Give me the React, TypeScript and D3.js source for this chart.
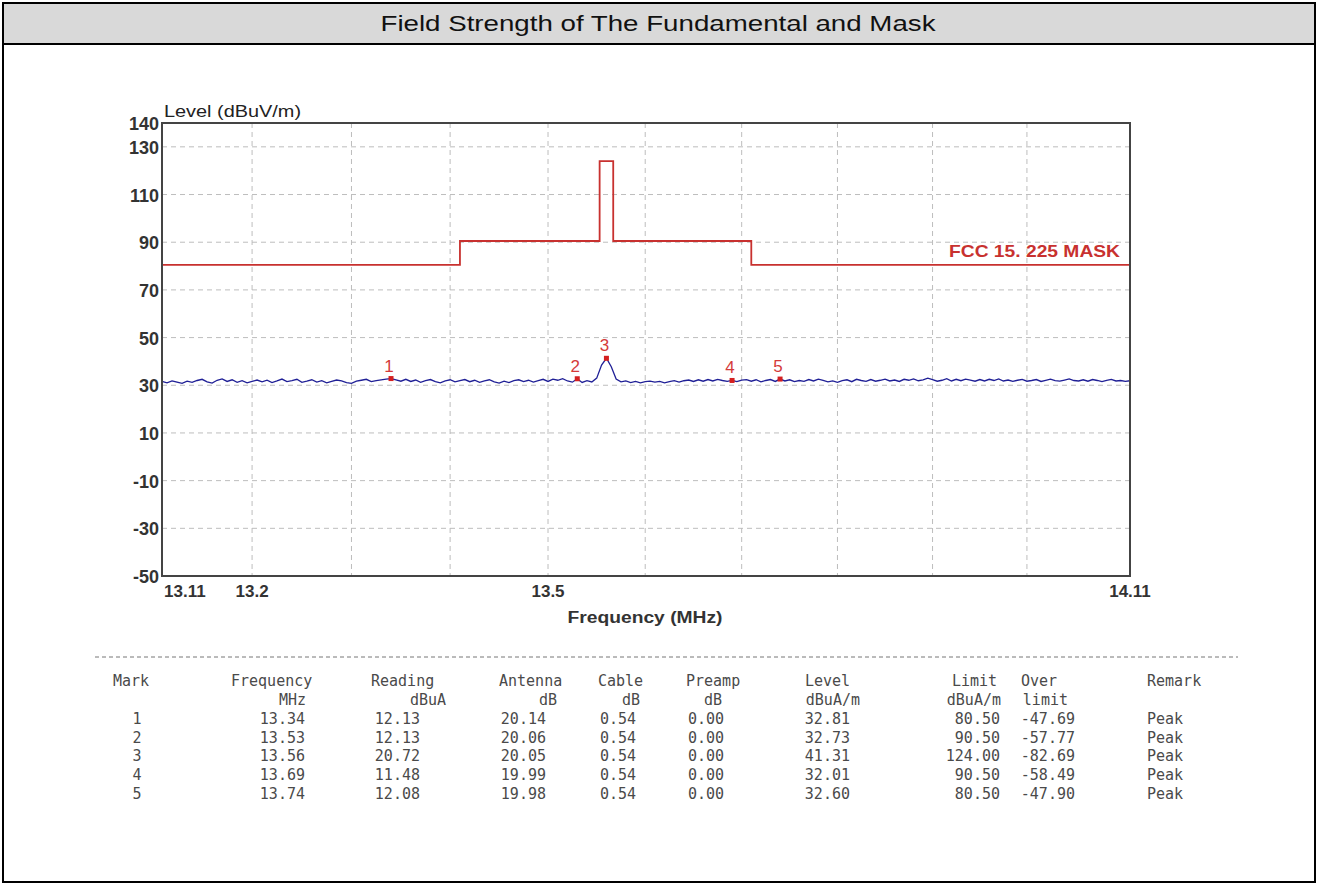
import React from 'react';
import * as d3 from 'd3';

// axis ticks
const yTickValues = [140, 130, 110, 90, 70, 50, 30, 10, -10, -30, -50];
const yGridValues = [130, 110, 90, 70, 50, 30, 10, -10, -30];
const xGridValues = [13.2, 13.3, 13.4, 13.5, 13.6, 13.7, 13.8, 13.9, 14.0];
const xTickValues = [13.11, 13.2, 13.5, 14.11];
const xTickLabels = ['13.11', '13.2', '13.5', '14.11'];

// FCC 15.225 mask
const maskFreqs = [13.11, 13.41, 13.41, 13.553, 13.553, 13.567, 13.567, 13.71, 13.71, 14.11];
const maskLevels = [80.5, 80.5, 90.5, 90.5, 124, 124, 90.5, 90.5, 80.5, 80.5];

// measured trace, sweep 13.11 .. 14.11 MHz, 0.005 MHz per point
const sweepStart = 13.11;
const sweepStep = 0.005;
const traceLevels = [
  31.6, 31.0, 31.8, 31.3, 30.8, 31.7, 31.2, 32.0, 32.5, 31.4,
  30.9, 32.1, 32.7, 31.6, 32.3, 31.2, 31.9, 31.0, 31.6, 32.2,
  31.4, 32.1, 31.1, 31.8, 32.6, 31.5, 31.9, 32.5, 31.2, 31.7,
  32.3, 31.3, 31.9, 31.0, 31.6, 32.2, 31.8, 31.1, 30.8, 31.7,
  32.1, 32.5, 31.5, 31.9, 32.3, 32.6, 32.81, 32.3, 31.7, 32.5,
  31.6, 32.2, 31.2, 31.9, 32.4, 31.5, 31.0, 31.8, 32.3, 31.4,
  31.9, 32.4, 31.5, 32.1, 31.2, 31.8, 32.3, 31.4, 30.9, 31.7,
  31.1, 31.9, 32.3, 31.5, 32.1, 31.3, 31.9, 32.5, 31.6, 32.6,
  32.1, 32.8, 31.8, 31.3, 32.73, 31.2, 31.9, 31.4, 33.0, 38.5,
  41.31, 37.8, 32.6, 31.4, 31.8, 31.1, 31.6, 31.0, 31.5, 31.7,
  31.3, 31.6, 31.0, 31.5, 31.9, 31.3, 31.9, 32.2, 31.6, 32.3,
  31.7, 32.4, 31.8, 32.5, 32.0, 31.6, 32.01, 31.5, 32.2, 32.4,
  31.7, 32.3, 31.4, 32.0, 32.4, 31.6, 32.6, 31.8, 32.3, 31.5,
  32.0, 31.6, 32.4, 31.8, 32.6, 32.0, 31.4, 31.8, 31.2, 31.9,
  32.3, 31.5, 32.5, 32.0, 31.6, 32.4, 31.7, 32.1, 32.6, 31.8,
  32.2, 31.6, 32.5, 32.1, 32.7, 31.9, 32.3, 33.0, 32.4, 31.7,
  32.1, 32.8, 31.8, 32.5, 31.9, 32.6, 32.2, 31.7, 32.4, 31.8,
  32.5, 32.0, 32.7, 31.8, 32.2, 31.6, 32.1, 32.5, 31.7, 32.0,
  32.4, 31.6, 32.1, 32.6, 31.9, 31.7, 32.2, 32.7, 32.0, 31.8,
  32.3, 31.7, 32.4, 32.0, 31.5, 32.1, 32.5, 31.8, 32.0, 31.6, 31.9,
];

// marker table
const markNo = ['1', '2', '3', '4', '5'];
const markFreq = [13.34, 13.53, 13.56, 13.69, 13.74];
const markReading = [12.13, 12.13, 20.72, 11.48, 12.08];
const markAntenna = [20.14, 20.06, 20.05, 19.99, 19.98];
const markCable = [0.54, 0.54, 0.54, 0.54, 0.54];
const markPreamp = [0.0, 0.0, 0.0, 0.0, 0.0];
const markLevel = [32.81, 32.73, 41.31, 32.01, 32.6];
const markLimit = [80.5, 90.5, 124.0, 90.5, 80.5];
const markOver = [-47.69, -57.77, -82.69, -58.49, -47.9];
const markRemark = ['Peak', 'Peak', 'Peak', 'Peak', 'Peak'];

const W = 1318;
const H = 885;
const plot = { left: 162, right: 1130, top: 123, bottom: 576 };
const sans = '"Liberation Sans", Arial, sans-serif';
const mono = '"DejaVu Sans Mono", "Liberation Mono", monospace';

export default function App() {
  const x = d3.scaleLog().domain([13.11, 14.11]).range([plot.left, plot.right]);
  const y = d3.scaleLinear().domain([-50, 140]).range([plot.bottom, plot.top]);

  const maskPath = d3.line<number>()
    .x((d, i) => x(maskFreqs[i]))
    .y((d) => y(d))(maskLevels);

  const tracePath = d3.line<number>()
    .x((d, i) => x(sweepStart + i * sweepStep))
    .y((d) => y(d))(traceLevels);

  const f2 = (v: number) => d3.format('.2f')(v).replace('−', '-');

  // table columns
  const cols = [
    { vals: markNo, x: 137, anchor: 'middle', h1: 'Mark', h1x: 113, h2: '', h2x: 0 },
    { vals: markFreq.map(f2), x: 305, anchor: 'end', h1: 'Frequency', h1x: 231, h2: 'MHz', h2x: 306 },
    { vals: markReading.map(f2), x: 420, anchor: 'end', h1: 'Reading', h1x: 371, h2: 'dBuA', h2x: 446 },
    { vals: markAntenna.map(f2), x: 546, anchor: 'end', h1: 'Antenna', h1x: 499, h2: 'dB', h2x: 557 },
    { vals: markCable.map(f2), x: 636, anchor: 'end', h1: 'Cable', h1x: 598, h2: 'dB', h2x: 640 },
    { vals: markPreamp.map(f2), x: 724, anchor: 'end', h1: 'Preamp', h1x: 686, h2: 'dB', h2x: 722 },
    { vals: markLevel.map(f2), x: 850, anchor: 'end', h1: 'Level', h1x: 805, h2: 'dBuA/m', h2x: 860 },
    { vals: markLimit.map(f2), x: 1000, anchor: 'end', h1: 'Limit', h1x: 952, h2: 'dBuA/m', h2x: 1001 },
    { vals: markOver.map(f2), x: 1075, anchor: 'end', h1: 'Over', h1x: 1021, h2: 'limit', h2x: 1068 },
    { vals: markRemark, x: 1147, anchor: 'start', h1: 'Remark', h1x: 1147, h2: '', h2x: 0 },
  ];
  const rowY = [724, 743, 761, 780, 799];

  return (
    <svg width={W} height={H} style={{ position: 'absolute', left: 0, top: 0, background: '#fff' }}>
      {/* frame + header */}
      <rect x={3} y={3} width={W - 6} height={41} fill="#d9d9d9" />
      <rect x={3} y={3} width={W - 6} height={H - 6} fill="none" stroke="#000" strokeWidth={2} />
      <line x1={3} x2={W - 3} y1={44} y2={44} stroke="#000" strokeWidth={2} />
      <text x={658} y={31} textAnchor="middle" fontFamily={sans} fontSize={22} fill="#111"
        textLength={555} lengthAdjust="spacingAndGlyphs">
        Field Strength of The Fundamental and Mask
      </text>

      {/* grid */}
      {yGridValues.map((v) => (
        <line key={'gy' + v} x1={plot.left} x2={plot.right} y1={y(v)} y2={y(v)}
          stroke="#bdbdbd" strokeWidth={1} strokeDasharray="5,4" />
      ))}
      {xGridValues.map((v) => (
        <line key={'gx' + v} x1={x(v)} x2={x(v)} y1={plot.top} y2={plot.bottom}
          stroke="#bdbdbd" strokeWidth={1} strokeDasharray="5,4" />
      ))}

      {/* mask */}
      <path d={maskPath || ''} fill="none" stroke="#c8312f" strokeWidth={1.8} />
      <text x={1120} y={257} textAnchor="end" fontFamily={sans} fontWeight="bold" fontSize={17} fill="#c8312f"
        textLength={171} lengthAdjust="spacingAndGlyphs">
        FCC 15. 225 MASK
      </text>

      {/* trace */}
      <path d={tracePath || ''} fill="none" stroke="#1f1f96" strokeWidth={1.3} />

      {/* markers */}
      {markFreq.map((f, i) => (
        <g key={'m' + i}>
          <rect x={x(f) - 2.5} y={y(markLevel[i]) - 2.5} width={5} height={5} fill="#d42020" />
          <text x={x(f) - 2} y={y(markLevel[i]) - 7} textAnchor="middle" fontFamily={sans} fontSize={17} fill="#d43a3a">
            {markNo[i]}
          </text>
        </g>
      ))}

      {/* plot border */}
      <rect x={plot.left} y={plot.top} width={plot.right - plot.left} height={plot.bottom - plot.top}
        fill="none" stroke="#444" strokeWidth={2} />

      {/* y axis labels */}
      {yTickValues.map((v) => (
        <text key={'yt' + v} x={plot.left - 3} y={y(v) + 7} textAnchor="end" fontFamily={sans}
          fontWeight="bold" fontSize={18} fill="#333">
          {v}
        </text>
      ))}
      <text x={plot.left + 2} y={117} fontFamily={sans} fontSize={16} fill="#222"
        textLength={137} lengthAdjust="spacingAndGlyphs">Level (dBuV/m)</text>

      {/* x axis labels */}
      {xTickValues.map((v, i) => (
        <text key={'xt' + v} x={i === 0 ? x(v) + 2 : x(v)} y={597} textAnchor={i === 0 ? 'start' : 'middle'}
          fontFamily={sans} fontWeight="bold" fontSize={17} fill="#333">
          {xTickLabels[i]}
        </text>
      ))}
      <text x={645} y={623} textAnchor="middle" fontFamily={sans} fontWeight="bold" fontSize={16} fill="#333"
        textLength={155} lengthAdjust="spacingAndGlyphs">
        Frequency (MHz)
      </text>

      {/* table */}
      <line x1={95} x2={1238} y1={657} y2={657} stroke="#777" strokeWidth={1} strokeDasharray="4,3" />
      {cols.map((c, ci) => (
        <g key={'c' + ci} fontFamily={mono} fontSize={15} fill="#4a4a4a">
          <text x={c.h1x} y={686}>{c.h1}</text>
          {c.h2 && <text x={c.h2x} y={705} textAnchor="end">{c.h2}</text>}
          {c.vals.map((v, ri) => (
            <text key={ri} x={c.x} y={rowY[ri]} textAnchor={c.anchor}>{v}</text>
          ))}
        </g>
      ))}
    </svg>
  );
}
